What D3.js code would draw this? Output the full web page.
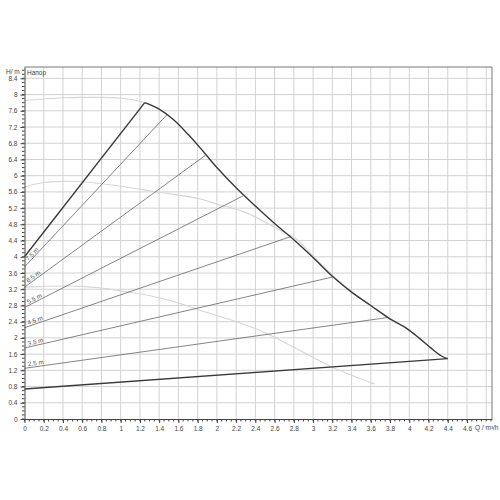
<!DOCTYPE html>
<html><head><meta charset="utf-8">
<script src="https://cdn.jsdelivr.net/npm/d3@7"></script>
<style>body{margin:0;background:#fff}svg{display:block;font-family:"Liberation Sans",Arial,sans-serif}</style>
</head><body>
<svg id="c" width="500" height="500"></svg>
<script>
// ---- data ----
const xTicks = [0,0.2,0.4,0.6,0.8,1,1.2,1.4,1.6,1.8,2,2.2,2.4,2.6,2.8,3,3.2,3.4,3.6,3.8,4,4.2,4.4,4.6];
const yTicks = [0,0.4,0.8,1.2,1.6,2,2.4,2.8,3.2,3.6,4,4.4,4.8,5.2,5.6,6,6.4,6.8,7.2,7.6,8,8.4];
// max curve (falling part, starting at the peak)
const maxQ = [1.25,1.4,1.55,1.7,1.85,2.0,2.2,2.4,2.6,2.8,3.0,3.2,3.4,3.6,3.8,3.95,4.1,4.22,4.33,4.4];
const maxH = [7.8,7.64,7.38,7.02,6.62,6.2,5.7,5.25,4.82,4.42,3.98,3.52,3.13,2.8,2.47,2.27,2.0,1.76,1.56,1.49];
// rising limit line (Δp-v max) and bottom limit line
const riseQ = [0,1.25];
const riseH = [4.0,7.8];
const minQ = [0,4.4];
const minH = [0.74,1.49];
// Δp-v set-point lines
const setHeads = [7.5,6.5,5.5,4.5,3.5,2.5];
const setEndQ  = [1.48,1.88,2.27,2.77,3.2,3.77];
const setLabels = ["7.5 m","6.5 m","5.5 m","4.5 m","3.5 m","2.5 m"];
// light grey curves
const greyAQ = [0,0.2,0.4,0.6,0.8,1.0,1.15,1.25];
const greyAH = [7.85,7.89,7.92,7.93,7.93,7.91,7.86,7.8];
const greyBQ = [0,0.2,0.4,0.6,0.8,1.0,1.3,1.6,1.82,2.0,2.27,2.5,2.7,2.82,3.0,3.2,3.5,3.8];
const greyBH = [5.72,5.83,5.86,5.85,5.8,5.74,5.63,5.52,5.43,5.3,5.12,4.86,4.6,4.45,4.02,3.55,2.96,2.48];
const greyCQ = [0,0.2,0.4,0.6,0.8,1.0,1.31,1.6,1.89,2.2,2.45,2.8,3.17,3.4,3.64];
const greyCH = [3.25,3.27,3.28,3.27,3.23,3.16,3.04,2.86,2.63,2.4,2.18,1.77,1.31,1.08,0.86];

// ---- drawing ----
const svg = d3.select("#c");
const x = d3.scaleLinear().domain([0,4.86]).range([24.5,492]);
const y = d3.scaleLinear().domain([0,8.68]).range([419,67]);
const zip = (a,b) => a.map((v,i)=>[v,b[i]]);

// grid
const g = svg.append("g");
g.selectAll("line.vg").data(d3.range(1,25).map(i=>+(i*0.2).toFixed(2))).join("line")
  .attr("x1",d=>x(d)).attr("x2",d=>x(d)).attr("y1",y(0)).attr("y2",y.range()[1])
  .attr("stroke","#d2d2d2").attr("stroke-width",1);
g.selectAll("line.hg").data(yTicks.filter(d=>d>0)).join("line")
  .attr("y1",d=>y(d)).attr("y2",d=>y(d)).attr("x1",x(0)).attr("x2",x.range()[1])
  .attr("stroke","#d2d2d2").attr("stroke-width",1);

// frame
svg.append("path").attr("d",`M${x(0)},${y.range()[1]}H${x.range()[1]}V${y(0)}`)
  .attr("fill","none").attr("stroke","#777").attr("stroke-width",1);

const line = d3.line().x(d=>x(d[0])).y(d=>y(d[1]));
const smooth = d3.line().x(d=>x(d[0])).y(d=>y(d[1])).curve(d3.curveCatmullRom.alpha(0.5));

// grey curves
[[greyAQ,greyAH],[greyBQ,greyBH],[greyCQ,greyCH]].forEach(([q,h])=>{
  svg.append("path").attr("d",smooth(zip(q,h))).attr("fill","none")
    .attr("stroke","#d6d6d6").attr("stroke-width",1.1);
});

// set-point lines
setHeads.forEach((h,i)=>{
  const pts = [[0,h/2],[setEndQ[i],h]];
  svg.append("path").attr("d",line(pts)).attr("fill","none")
    .attr("stroke","#666").attr("stroke-width",0.8);
  const ang = Math.atan2(y(h)-y(h/2), x(setEndQ[i])-x(0))*180/Math.PI;
  const q0 = 0.04;
  const lx = x(q0), ly = y(h/2 + (h/2)*q0/setEndQ[i]) - 1.5;
  svg.append("text").attr("transform",`translate(${lx},${ly}) rotate(${ang})`)
    .attr("font-size",6.3).attr("fill","#555").text(setLabels[i]);
});

// thick lines
const thick = {stroke:"#3a3a3a", w:1.4};
svg.append("path").attr("d",line(zip(riseQ,riseH))).attr("fill","none").attr("stroke",thick.stroke).attr("stroke-width",thick.w);
svg.append("path").attr("d",smooth(zip(maxQ,maxH))).attr("fill","none").attr("stroke",thick.stroke).attr("stroke-width",thick.w);
svg.append("path").attr("d",line(zip(minQ,minH))).attr("fill","none").attr("stroke",thick.stroke).attr("stroke-width",thick.w);

// axes
const fmt = d => String(+d.toFixed(2));
const xa = svg.append("g").attr("transform",`translate(0,${y(0)})`)
  .call(d3.axisBottom(x).tickValues(xTicks).tickSize(4).tickSizeOuter(0).tickFormat(fmt));
xa.selectAll("text").attr("font-size",6.5).attr("fill","#444").attr("dy","0.8em");
xa.select(".domain").attr("stroke","#444");
xa.selectAll(".tick line").attr("stroke","#444");
svg.append("g").selectAll("line").data(d3.range(0,98).map(i=>i*0.05)).join("line")
  .attr("x1",d=>x(d)).attr("x2",d=>x(d)).attr("y1",y(0)).attr("y2",y(0)+2.5).attr("stroke","#444");

const ya = svg.append("g").attr("transform",`translate(${x(0)},0)`)
  .call(d3.axisLeft(y).tickValues(yTicks).tickSize(4).tickSizeOuter(0).tickFormat(fmt));
ya.selectAll("text").attr("font-size",6.5).attr("fill","#444");
ya.select(".domain").attr("stroke","#444");
ya.selectAll(".tick line").attr("stroke","#444");
svg.append("g").selectAll("line").data(d3.range(0,87).map(i=>i*0.1)).join("line")
  .attr("y1",d=>y(d)).attr("y2",d=>y(d)).attr("x1",x(0)).attr("x2",x(0)-2.5).attr("stroke","#444");

// labels
svg.append("text").attr("x",6).attr("y",74).attr("font-size",6.5).attr("fill","#444").text("H/ m");
svg.append("text").attr("x",27).attr("y",75).attr("font-size",6.5).attr("fill","#444").text("Напор");
svg.append("text").attr("x",475).attr("y",430).attr("font-size",6.5).attr("fill","#444").text("Q / m³/h");
</script>
</body></html>
